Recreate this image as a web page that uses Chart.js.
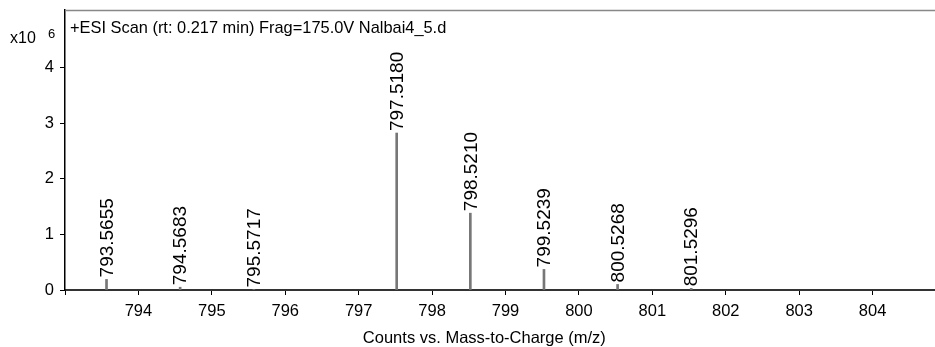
<!DOCTYPE html>
<html>
<head>
<meta charset="utf-8">
<script src="https://cdn.jsdelivr.net/npm/chart.js@4.4.1/dist/chart.umd.min.js"></script>
<style>
  html, body { margin: 0; padding: 0; background: #fff; }
</style>
</head>
<body>
<canvas id="ms" width="935" height="347"></canvas>
<script>
// peak list (m/z, counts)
const peakMz = [793.5655, 794.5683, 795.5717, 797.5180, 798.5210, 799.5239, 800.5268, 801.5296];
const peakCounts = [190000, 50000, 10000, 2820000, 1380000, 370000, 100000, 30000];
const peakLabels = ["793.5655", "794.5683", "795.5717", "797.5180", "798.5210", "799.5239", "800.5268", "801.5296"];

// axis ticks
const xTickValues = [793, 794, 795, 796, 797, 798, 799, 800, 801, 802, 803, 804];
const xTickLabels = ["", "794", "795", "796", "797", "798", "799", "800", "801", "802", "803", "804"];
const yTickValues = [0, 1, 2, 3, 4]; // x10^6

const scanTitle = "+ESI Scan (rt: 0.217 min) Frag=175.0V Nalbai4_5.d";
const xAxisTitle = "Counts vs. Mass-to-Charge (m/z)";

const FONT = "'Liberation Sans', Arial, sans-serif";

// extra text: scan header, exponent, axis title, peak labels, top frame
const decorations = {
    id: "decorations",
    afterDatasetsDraw(chart) {
        const ctx = chart.ctx;
        const area = chart.chartArea;
        ctx.save();

        // top frame line
        ctx.strokeStyle = "#888";
        ctx.lineWidth = 1.5;
        ctx.beginPath();
        ctx.moveTo(area.left, area.top + 0.5);
        ctx.lineTo(area.right, area.top + 0.5);
        ctx.stroke();

        ctx.fillStyle = "#000";
        ctx.textBaseline = "alphabetic";
        ctx.textAlign = "left";
        ctx.font = "16.4px " + FONT;
        ctx.fillText(scanTitle, area.left + 5, area.top + 23);

        // exponent label
        ctx.font = "16px " + FONT;
        ctx.fillText("x10", 10, area.top + 33);
        ctx.font = "13px " + FONT;
        ctx.fillText("6", 48, area.top + 28);

        // x axis title
        ctx.font = "16.5px " + FONT;
        ctx.textAlign = "center";
        ctx.fillText(xAxisTitle, area.left + (area.right - area.left) * 0.482, 343);

        // peak labels, rotated
        const meta = chart.getDatasetMeta(0);
        ctx.font = "19px " + FONT;
        ctx.textAlign = "left";
        ctx.textBaseline = "middle";
        meta.data.forEach((bar, i) => {
            ctx.save();
            ctx.translate(bar.x + 1, bar.y - 2);
            ctx.rotate(-Math.PI / 2);
            ctx.fillText(peakLabels[i], 0, 0);
            ctx.restore();
        });

        ctx.restore();
    }
};

const ctx = document.getElementById("ms").getContext("2d");
new Chart(ctx, {
    type: "bar",
    data: {
        datasets: [{
            data: peakMz.map((mz, i) => ({ x: mz, y: peakCounts[i] })),
            backgroundColor: "#777",
            borderWidth: 0,
            barThickness: 2
        }]
    },
    options: {
        responsive: false,
        devicePixelRatio: 1,
        animation: false,
        layout: { padding: { top: 10, left: 0, right: 0, bottom: 0 } },
        plugins: {
            legend: { display: false },
            tooltip: { enabled: false }
        },
        scales: {
            x: {
                type: "linear",
                offset: false,
                min: 793,
                max: 804.85,
                afterBuildTicks: scale => {
                    scale.ticks = xTickValues.map(v => ({ value: v }));
                },
                afterFit: scale => {
                    scale.height = 57;
                    scale.paddingLeft = 0;
                    scale.paddingRight = 0;
                },
                ticks: {
                    autoSkip: false,
                    maxRotation: 0,
                    color: "#000",
                    padding: 7,
                    font: { family: FONT, size: 16.5 },
                    callback: (v, i) => xTickLabels[i]
                },
                grid: {
                    offset: false,
                    drawOnChartArea: false,
                    drawTicks: true,
                    tickLength: 5,
                    color: "#000"
                },
                border: { color: "#333", width: 2 }
            },
            y: {
                min: 0,
                max: 5030000,
                afterBuildTicks: scale => {
                    scale.ticks = yTickValues.map(v => ({ value: v * 1e6 }));
                },
                afterFit: scale => {
                    scale.width = 65;
                    scale.paddingTop = 0;
                    scale.paddingBottom = 0;
                },
                ticks: {
                    color: "#000",
                    padding: 6,
                    font: { family: FONT, size: 16.5 },
                    callback: v => String(v / 1e6)
                },
                grid: {
                    drawOnChartArea: false,
                    drawTicks: true,
                    tickLength: 5,
                    color: "#000"
                },
                border: { color: "#000", width: 1.5 }
            }
        }
    },
    plugins: [decorations]
});
</script>
</body>
</html>
